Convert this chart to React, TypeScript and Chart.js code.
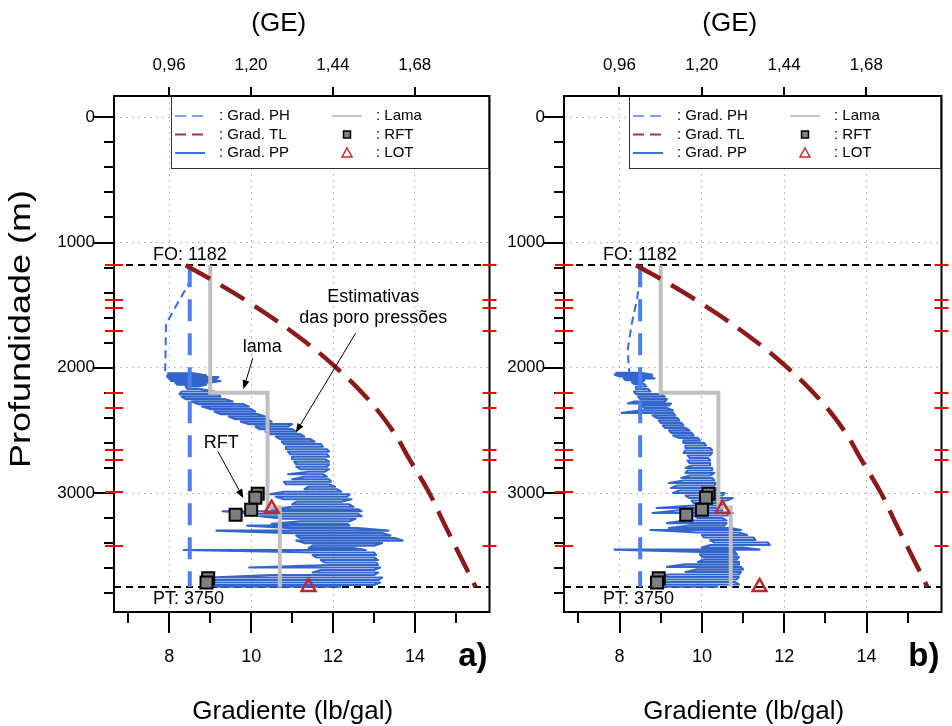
import React, { useEffect, useRef } from "react";
import { Chart, registerables } from "chart.js";

Chart.register(...registerables);

const FONT = "'Liberation Sans', Arial, Helvetica, sans-serif";
const CANVAS_H = 726;
const PLOT_TOP = 96;
const PLOT_BOTTOM = 612;

// Axis ranges (gradient in lb/gal, depth in m)
const X_MIN = 6.65;
const X_MAX = 15.82;
const DEPTH_TOP = -170;
const DEPTH_BOTTOM = 3950;

// Tick values
const xMajorTicks = [8, 10, 12, 14];
const xMinorTicks = [7, 9, 11, 13, 15];
const geTicks = [0.96, 1.2, 1.44, 1.68];
const LBGAL_PER_GE = 8.33;
const depthMajorTicks = [0, 1000, 2000, 3000];
const depthMinorTicks = [200, 400, 600, 800, 1200, 1400, 1600, 1800, 2200, 2400, 2600, 2800, 3200, 3400, 3600, 3800];
const formationTopDepths = [1182, 1455, 1525, 1703, 2200, 2320, 2660, 2740, 2995, 3420];

// Reference depths
const foDepth = 1182;
const ptDepth = 3750;

// Hydrostatic gradient
const phGrad = [8.5, 8.5];
const phDepth = [1182, 3750];

// Fracture gradient (Grad. TL)
const tlDepth = [1182, 1300, 1500, 1750, 2000, 2250, 2500, 2750, 3000, 3250, 3500, 3750];
const tlGrad = [8.4, 9.05, 10.05, 11.15, 12.08, 12.85, 13.45, 13.9, 14.35, 14.72, 15.1, 15.48];

// Mud weight (Lama)
const lamaGrad = [9.0, 9.0, 10.4, 10.4, 10.7, 10.7];
const lamaDepth = [1182, 2200, 2200, 3115, 3115, 3750];

// RFT measurements
const rftGrad = [10.16, 10.1, 10.0, 9.62, 8.95, 8.91];
const rftDepth = [3005, 3038, 3134, 3174, 3680, 3714];

// Leak-off tests
const lotGrad = [10.5, 11.4];
const lotDepth = [3125, 3750];

// Pore pressure trend above the log interval
const trendGradA = [8.5, 8.48, 7.92, 7.9, 7.95];
const trendDepthA = [1182, 1325, 1650, 2040, 2050];
const trendGradB = [8.5, 8.48, 8.42, 8.3, 8.2, 8.22, 8.25];
const trendDepthB = [1182, 1330, 1460, 1640, 1850, 2000, 2045];

// Estimated pore pressure (a): depth with low / high gradient of the log trace
const ppDepthA = [2045, 2060, 2075, 2090, 2105, 2120, 2135, 2150, 2170, 2190, 2210, 2230, 2250, 2270, 2290, 2310, 2330, 2350, 2370, 2390, 2410, 2430, 2450, 2470, 2490, 2510, 2530, 2550, 2570, 2590, 2610, 2630, 2650, 2670, 2690, 2710, 2730, 2750, 2770, 2790, 2810, 2830, 2850, 2870, 2890, 2910, 2930, 2950, 2970, 2990, 3010, 3030, 3050, 3070, 3090, 3110, 3130, 3145, 3165, 3185, 3205, 3225, 3245, 3260, 3280, 3300, 3320, 3340, 3360, 3380, 3400, 3420, 3440, 3455, 3475, 3495, 3515, 3535, 3555, 3575, 3595, 3615, 3635, 3655, 3675, 3695, 3715, 3735, 3748];
const ppLowA = [7.95, 7.95, 7.95, 8.0, 8.05, 8.15, 8.2, 8.4, 8.45, 8.3, 8.25, 8.3, 8.4, 8.55, 8.7, 8.8, 9.0, 9.1, 9.25, 9.45, 9.6, 9.75, 9.95, 10.1, 10.2, 10.35, 10.45, 10.6, 10.7, 10.75, 10.8, 10.85, 10.85, 10.9, 10.95, 11.0, 11.0, 11.05, 11.1, 11.1, 11.2, 11.4, 10.9, 11.3, 11.0, 10.8, 10.85, 11.4, 11.3, 10.8, 10.45, 10.6, 10.8, 11.1, 11.0, 11.0, 10.5, 9.3, 10.0, 10.2, 10.8, 11.2, 10.5, 9.9, 11.0, 9.15, 11.0, 11.1, 11.2, 11.1, 11.3, 11.5, 11.4, 8.35, 11.6, 11.5, 11.6, 11.7, 11.8, 11.9, 9.95, 11.7, 11.5, 10.5, 9.0, 9.0, 8.95, 8.95, 9.2];
const ppHighA = [8.6, 8.9, 9.2, 9.15, 9.25, 9.0, 8.9, 8.7, 8.75, 9.1, 9.2, 9.25, 9.35, 9.55, 9.8, 9.95, 10.0, 10.1, 10.15, 10.35, 10.4, 10.5, 11.0, 10.9, 11.0, 11.1, 11.2, 11.3, 11.45, 11.55, 11.7, 11.75, 11.85, 11.9, 11.85, 11.9, 11.8, 11.9, 11.9, 11.85, 11.9, 11.8, 11.75, 11.85, 11.9, 11.95, 11.9, 12.05, 12.1, 12.2, 12.4, 12.35, 12.45, 12.2, 12.4, 12.5, 12.6, 12.7, 12.6, 12.7, 12.55, 12.4, 12.35, 12.4, 12.6, 13.35, 13.2, 13.4, 13.5, 13.7, 13.2, 13.0, 12.5, 12.8, 13.0, 13.05, 13.0, 13.1, 13.05, 13.1, 13.15, 13.0, 13.1, 13.0, 13.2, 13.1, 13.15, 13.0, 12.2];

// Estimated pore pressure (b)
const ppDepthB = [2040, 2055, 2070, 2085, 2100, 2115, 2130, 2150, 2170, 2190, 2210, 2230, 2250, 2270, 2285, 2300, 2320, 2340, 2360, 2380, 2400, 2420, 2440, 2460, 2480, 2500, 2520, 2540, 2560, 2580, 2600, 2620, 2640, 2660, 2680, 2700, 2720, 2740, 2760, 2780, 2800, 2820, 2840, 2860, 2880, 2900, 2920, 2940, 2960, 2980, 3000, 3020, 3040, 3060, 3080, 3100, 3120, 3140, 3160, 3180, 3200, 3220, 3240, 3260, 3280, 3295, 3315, 3335, 3355, 3375, 3395, 3415, 3435, 3452, 3470, 3490, 3510, 3530, 3550, 3570, 3590, 3610, 3630, 3650, 3670, 3690, 3710, 3730, 3748];
const ppLowB = [7.9, 7.88, 8.0, 8.1, 8.15, 8.3, 8.35, 8.4, 8.4, 8.35, 8.4, 8.45, 8.5, 8.35, 8.2, 8.5, 8.6, 8.55, 8.05, 8.8, 8.9, 8.95, 9.0, 9.05, 9.1, 9.2, 9.25, 9.3, 9.45, 9.55, 9.55, 9.6, 9.6, 9.6, 9.55, 9.65, 9.7, 9.65, 9.7, 9.75, 9.6, 9.65, 9.6, 9.7, 9.5, 9.55, 9.2, 9.4, 9.25, 9.45, 9.3, 9.6, 9.7, 9.75, 9.8, 9.8, 8.9, 9.4, 8.8, 9.8, 9.9, 9.6, 9.15, 9.7, 9.2, 8.75, 9.9, 10.0, 10.05, 10.2, 10.3, 10.2, 10.0, 7.88, 10.0, 9.95, 10.0, 10.05, 9.9, 9.6, 9.15, 9.85, 9.6, 9.2, 8.8, 8.9, 8.9, 8.9, 9.0];
const ppHighB = [8.5, 8.8, 8.75, 8.85, 8.6, 8.55, 8.6, 8.65, 8.7, 8.75, 9.0, 9.1, 9.15, 9.1, 9.25, 9.2, 9.15, 9.3, 9.3, 9.35, 9.4, 9.45, 9.5, 9.55, 9.6, 9.7, 9.75, 9.8, 9.9, 9.95, 10.05, 10.1, 10.2, 10.25, 10.25, 10.2, 10.15, 10.2, 10.2, 10.2, 10.25, 10.25, 10.3, 10.2, 10.25, 10.3, 10.35, 10.3, 10.35, 10.4, 10.55, 10.5, 10.75, 10.6, 10.45, 10.5, 10.45, 10.5, 10.75, 10.6, 10.5, 10.6, 10.6, 10.55, 10.7, 10.95, 10.9, 11.1, 11.25, 11.3, 11.6, 11.65, 11.0, 11.4, 10.8, 10.85, 10.9, 10.85, 10.9, 10.9, 10.95, 11.0, 10.95, 10.9, 10.9, 10.85, 10.8, 10.9, 10.4];

// Legend entries (two columns)
const legendLeftCol = [": Grad. PH", ": Grad. TL", ": Grad. PP"];
const legendRightCol = [": Lama", ": RFT", ": LOT"];

const COLORS = {
  pp: "#3366cc",
  ppTrend: "#3a6cd6",
  ph: "#4a7ef2",
  tl: "#8b1a1a",
  lama: "#bfbfbf",
  rft: "#7f7f7f",
  lot: "#c0282d",
  grid: "#bdbdbd",
  mark: "#ff0000",
};

type PanelSpec = {
  id: string;
  label: string;
  canvasLeft: number;
  canvasWidth: number;
  plotLeft: number;
  plotRight: number;
  legendOffset: number;
  depthTitle: boolean;
  notes: boolean;
  ppDepth: number[];
  ppLow: number[];
  ppHigh: number[];
  trendGrad: number[];
  trendDepth: number[];
};

const panelA: PanelSpec = {
  id: "a",
  label: "a)",
  canvasLeft: 0,
  canvasWidth: 500,
  plotLeft: 114,
  plotRight: 492,
  legendOffset: 57,
  depthTitle: true,
  notes: true,
  ppDepth: ppDepthA,
  ppLow: ppLowA,
  ppHigh: ppHighA,
  trendGrad: trendGradA,
  trendDepth: trendDepthA,
};

const panelB: PanelSpec = {
  id: "b",
  label: "b)",
  canvasLeft: 500,
  canvasWidth: 452,
  plotLeft: 64,
  plotRight: 443,
  legendOffset: 65,
  depthTitle: false,
  notes: false,
  ppDepth: ppDepthB,
  ppLow: ppLowB,
  ppHigh: ppHighB,
  trendGrad: trendGradB,
  trendDepth: trendDepthB,
};

const pts = (xs: number[], ys: number[]) => xs.map((x, i) => ({ x, y: ys[i] }));

// Callout texts with arrows (gradient / depth coordinates)
const callouts = [
  { lines: ["Estimativas", "das poro pressões"], x: 12.98, y: [1432, 1604], from: [12.55, 1724], to: [11.09, 2517] },
  { lines: ["lama"], x: 10.27, y: [1831], from: [10.04, 1923], to: [9.81, 2171] },
  { lines: ["RFT"], x: 9.27, y: [2602], from: [9.19, 2669], to: [9.81, 3041] },
];

function arrow(ctx: CanvasRenderingContext2D, x1: number, y1: number, x2: number, y2: number) {
  const ang = Math.atan2(y2 - y1, x2 - x1);
  const head = 9;
  const half = 3.5;
  const bx = x2 - Math.cos(ang) * head;
  const by = y2 - Math.sin(ang) * head;
  ctx.beginPath();
  ctx.moveTo(x1, y1);
  ctx.lineTo(bx, by);
  ctx.stroke();
  ctx.beginPath();
  ctx.moveTo(x2, y2);
  ctx.lineTo(bx - Math.sin(ang) * half, by + Math.cos(ang) * half);
  ctx.lineTo(bx + Math.sin(ang) * half, by - Math.cos(ang) * half);
  ctx.closePath();
  ctx.fill();
}

function decorPlugin(spec: PanelSpec) {
  return {
    id: "decor_" + spec.id,
    beforeDatasetsDraw(chart: any) {
      const { ctx, chartArea: a } = chart;
      const y = chart.scales.y;
      ctx.save();
      ctx.strokeStyle = "#000";
      ctx.lineWidth = 2;
      ctx.setLineDash([7, 5]);
      [foDepth, ptDepth].forEach((d) => {
        const py = Math.round(y.getPixelForValue(d));
        ctx.beginPath();
        ctx.moveTo(a.left, py);
        ctx.lineTo(a.right, py);
        ctx.stroke();
      });
      ctx.restore();
    },
    afterDatasetsDraw(chart: any) {
      const { ctx, chartArea: a } = chart;
      const x = chart.scales.x;
      const y = chart.scales.y;
      ctx.save();
      ctx.fillStyle = "#000";
      ctx.font = `18px ${FONT}`;
      ctx.textAlign = "left";
      ctx.textBaseline = "alphabetic";
      ctx.fillText(`FO: ${foDepth}`, a.left + 39, y.getPixelForValue(foDepth) - 5);
      ctx.textBaseline = "top";
      ctx.fillText(`PT: ${ptDepth}`, a.left + 39, y.getPixelForValue(ptDepth) + 3);

      if (spec.notes) {
        ctx.strokeStyle = "#000";
        ctx.lineWidth = 1;
        ctx.textAlign = "center";
        ctx.textBaseline = "middle";
        callouts.forEach((c) => {
          c.lines.forEach((t, i) => ctx.fillText(t, x.getPixelForValue(c.x), y.getPixelForValue(c.y[i])));
          arrow(
            ctx,
            x.getPixelForValue(c.from[0]),
            y.getPixelForValue(c.from[1]),
            x.getPixelForValue(c.to[0]),
            y.getPixelForValue(c.to[1])
          );
        });
      }
      ctx.restore();
    },
    afterDraw(chart: any) {
      const { ctx, chartArea: a } = chart;
      const x = chart.scales.x;
      const x2 = chart.scales.x2;
      const y = chart.scales.y;
      ctx.save();

      // legend box
      const lx = a.left + spec.legendOffset;
      const lh = 73;
      ctx.fillStyle = "#fff";
      ctx.fillRect(lx, a.top, a.right - lx, lh);
      ctx.strokeStyle = "#333";
      ctx.lineWidth = 1;
      ctx.strokeRect(lx + 0.5, a.top + 0.5, a.right - lx - 1, lh - 1);
      const rows = [a.top + 20, a.top + 38.5, a.top + 57];
      ctx.font = `15px ${FONT}`;
      ctx.fillStyle = "#000";
      ctx.textAlign = "left";
      ctx.textBaseline = "middle";
      legendLeftCol.forEach((t, i) => ctx.fillText(t, lx + 48, rows[i]));
      legendRightCol.forEach((t, i) => ctx.fillText(t, lx + 205, rows[i]));
      const sample = (row: number, color: string, dash: number[], col: number) => {
        ctx.strokeStyle = color;
        ctx.lineWidth = 2;
        ctx.setLineDash(dash);
        ctx.beginPath();
        ctx.moveTo(lx + col, rows[row]);
        ctx.lineTo(lx + col + 30, rows[row]);
        ctx.stroke();
        ctx.setLineDash([]);
      };
      sample(0, "#7aa0f0", [11, 6], 4);
      sample(1, "#a03a3a", [11, 6], 4);
      sample(2, "#3d6fd9", [], 4);
      sample(0, "#c4c4c4", [], 161);
      // RFT marker
      ctx.fillStyle = COLORS.rft;
      ctx.strokeStyle = "#000";
      ctx.lineWidth = 1.5;
      ctx.fillRect(lx + 172.5, rows[1] - 3.5, 7, 7);
      ctx.strokeRect(lx + 172.5, rows[1] - 3.5, 7, 7);
      // LOT marker
      ctx.strokeStyle = COLORS.lot;
      ctx.lineWidth = 1.5;
      ctx.beginPath();
      ctx.moveTo(lx + 176, rows[2] - 5);
      ctx.lineTo(lx + 181, rows[2] + 4);
      ctx.lineTo(lx + 171, rows[2] + 4);
      ctx.closePath();
      ctx.stroke();

      // frame
      ctx.strokeStyle = "#000";
      ctx.lineWidth = 2;
      ctx.strokeRect(a.left, a.top, a.right - a.left, a.bottom - a.top);

      // tick marks
      ctx.lineWidth = 2;
      const vline = (px: number, y1: number, y2: number) => {
        ctx.beginPath();
        ctx.moveTo(px, y1);
        ctx.lineTo(px, y2);
        ctx.stroke();
      };
      const hline = (py: number, x1: number, xEnd: number) => {
        ctx.beginPath();
        ctx.moveTo(x1, py);
        ctx.lineTo(xEnd, py);
        ctx.stroke();
      };
      xMajorTicks.forEach((v) => vline(Math.round(x.getPixelForValue(v)), a.bottom, a.bottom + 21));
      xMinorTicks.forEach((v) => vline(Math.round(x.getPixelForValue(v)), a.bottom, a.bottom + 11));
      geTicks.forEach((g) => vline(Math.round(x2.getPixelForValue(g * LBGAL_PER_GE)), a.top - 9, a.top));
      depthMajorTicks.forEach((d) => hline(Math.round(y.getPixelForValue(d)), a.left - 20, a.left));
      depthMinorTicks.forEach((d) => hline(Math.round(y.getPixelForValue(d)), a.left - 10, a.left));

      // formation tops on both borders
      ctx.strokeStyle = COLORS.mark;
      formationTopDepths.forEach((d) => {
        const py = Math.round(y.getPixelForValue(d));
        hline(py, a.left - 9, a.left + 9);
        hline(py, a.right - 7, a.right + 7);
      });

      // titles
      const cx = (a.left + a.right) / 2;
      ctx.fillStyle = "#000";
      ctx.textAlign = "center";
      ctx.textBaseline = "middle";
      ctx.font = `26px ${FONT}`;
      ctx.fillText("(GE)", cx - 23, 24);
      ctx.fillText("Gradiente (lb/gal)", cx - 9, 712);
      if (spec.depthTitle) {
        ctx.save();
        ctx.translate(22, 329);
        ctx.rotate(-Math.PI / 2);
        ctx.scale(1.2, 1);
        ctx.font = `30px ${FONT}`;
        ctx.fillText("Profundidade (m)", 0, 0);
        ctx.restore();
      }
      ctx.font = `bold 33px ${FONT}`;
      ctx.textAlign = "right";
      ctx.fillText(spec.label, a.right - 2, 657);
      ctx.restore();
    },
  };
}

function buildConfig(spec: PanelSpec): any {
  // trace runs back and forth across each depth sample of the log
  const ppPoints: { x: number; y: number }[] = [];
  spec.ppDepth.forEach((d, i) => {
    const lo = { x: spec.ppLow[i], y: d };
    const hi = { x: spec.ppHigh[i], y: d };
    if (i % 2 === 0) ppPoints.push(lo, hi);
    else ppPoints.push(hi, lo);
  });

  const line = { showLine: true, pointRadius: 0, fill: false };

  return {
    type: "scatter",
    data: {
      datasets: [
        {
          label: "RFT",
          data: pts(rftGrad, rftDepth),
          pointStyle: "rect",
          pointRadius: 8.5,
          pointBackgroundColor: COLORS.rft,
          pointBorderColor: "#000",
          pointBorderWidth: 2,
        },
        {
          label: "LOT",
          data: pts(lotGrad, lotDepth),
          pointStyle: "triangle",
          pointRadius: 8,
          pointBackgroundColor: "rgba(0,0,0,0)",
          pointBorderColor: COLORS.lot,
          pointBorderWidth: 2.5,
        },
        {
          ...line,
          label: "Grad. TL",
          data: pts(tlGrad, tlDepth),
          borderColor: COLORS.tl,
          borderWidth: 4.5,
          borderDash: [28, 12],
          tension: 0.4,
        },
        {
          ...line,
          label: "Lama",
          data: pts(lamaGrad, lamaDepth),
          borderColor: COLORS.lama,
          borderWidth: 4,
        },
        {
          ...line,
          label: "Grad. PH",
          data: pts(phGrad, phDepth),
          borderColor: COLORS.ph,
          borderWidth: 4,
          borderDash: [22, 12],
        },
        {
          ...line,
          label: "Grad. PP (tendência)",
          data: pts(spec.trendGrad, spec.trendDepth),
          borderColor: COLORS.ppTrend,
          borderWidth: 2,
          borderDash: [8, 5],
        },
        {
          ...line,
          label: "Grad. PP",
          data: ppPoints,
          borderColor: COLORS.pp,
          borderWidth: 2.1,
          borderJoinStyle: "round",
        },
      ],
    },
    options: {
      responsive: false,
      animation: false,
      devicePixelRatio: 1,
      events: [],
      layout: { padding: { left: 0, top: 0, bottom: 0, right: spec.canvasWidth - spec.plotRight } },
      plugins: { legend: { display: false }, tooltip: { enabled: false } },
      scales: {
        x: {
          type: "linear",
          position: "bottom",
          min: X_MIN,
          max: X_MAX,
          afterBuildTicks: (s: any) => {
            s.ticks = xMajorTicks.map((v) => ({ value: v }));
          },
          afterFit: (s: any) => {
            s.height = CANVAS_H - PLOT_BOTTOM;
          },
          grid: { color: COLORS.grid, lineWidth: 1, drawTicks: false },
          border: { display: false, dash: [2, 4] },
          ticks: {
            padding: 34,
            color: "#000",
            maxRotation: 0,
            autoSkip: false,
            font: { family: FONT, size: 18 },
            callback: (v: number) => String(v),
          },
        },
        x2: {
          type: "linear",
          position: "top",
          min: X_MIN,
          max: X_MAX,
          afterBuildTicks: (s: any) => {
            s.ticks = geTicks.map((g) => ({ value: g * LBGAL_PER_GE }));
          },
          afterFit: (s: any) => {
            s.height = PLOT_TOP;
          },
          grid: { display: false, drawTicks: false },
          border: { display: false },
          ticks: {
            padding: 20,
            color: "#000",
            maxRotation: 0,
            autoSkip: false,
            font: { family: FONT, size: 17 },
            callback: (v: number) => (v / LBGAL_PER_GE).toFixed(2).replace(".", ","),
          },
        },
        y: {
          type: "linear",
          position: "left",
          reverse: true,
          min: DEPTH_TOP,
          max: DEPTH_BOTTOM,
          afterBuildTicks: (s: any) => {
            s.ticks = depthMajorTicks.map((v) => ({ value: v }));
          },
          afterFit: (s: any) => {
            s.width = spec.plotLeft;
          },
          grid: { color: COLORS.grid, lineWidth: 1, drawTicks: false },
          border: { display: false, dash: [2, 4] },
          ticks: {
            padding: 19,
            color: "#000",
            autoSkip: false,
            font: { family: FONT, size: 17 },
            callback: (v: number) => String(v),
          },
        },
      },
    },
    plugins: [decorPlugin(spec)],
  };
}

function Panel({ spec }: { spec: PanelSpec }) {
  const ref = useRef<HTMLCanvasElement | null>(null);
  useEffect(() => {
    if (!ref.current) return;
    const chart = new Chart(ref.current, buildConfig(spec));
    return () => chart.destroy();
  }, [spec]);
  return (
    <canvas
      ref={ref}
      width={spec.canvasWidth}
      height={CANVAS_H}
      style={{ position: "absolute", left: spec.canvasLeft, top: 0, width: spec.canvasWidth, height: CANVAS_H }}
    />
  );
}

export default function App() {
  return (
    <div style={{ position: "fixed", left: 0, top: 0, width: 952, height: CANVAS_H, background: "#fff" }}>
      <Panel spec={panelA} />
      <Panel spec={panelB} />
    </div>
  );
}
